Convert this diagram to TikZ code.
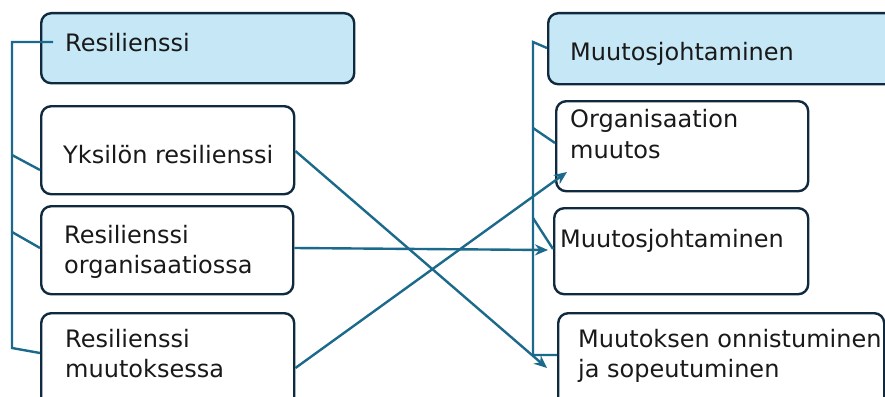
\documentclass[tikz,border=0pt]{standalone}
\usepackage{fontspec}
\setmainfont{DejaVu Sans}
\usetikzlibrary{arrows.meta}
\definecolor{boxblue}{HTML}{C6E8F6}
\definecolor{boxline}{HTML}{0F2A3E}
\definecolor{conn}{HTML}{1B6A8C}
\tikzset{
  box/.style={draw=boxline, line width=2.4pt, rounded corners=10pt, fill=white,
    inner sep=0pt, anchor=north west},
  bluebox/.style={box, fill=boxblue},
  lbl/.style={anchor=base west, inner sep=0pt, font=\fontsize{24}{31}\selectfont, text=black!90},
  wire/.style={draw=conn, line width=2.4pt},
  arr/.style={wire, -{Stealth[length=13pt,width=11pt]}},
}
\begin{document}
\begin{tikzpicture}[x=1pt,y=-1pt]
\useasboundingbox (0,0) rectangle (885,396);
\clip (0,0) rectangle (885,396);
\fill[white] (0,0) rectangle (885,396);
% left boxes
\node[bluebox, minimum width=313pt, minimum height=70pt] (res) at (40,12) {};
\node[box, minimum width=253pt, minimum height=88pt] (yks) at (40,105) {};
\node[box, minimum width=252pt, minimum height=88pt] (org) at (40,205) {};
\node[box, minimum width=253pt, minimum height=100pt] (muu) at (40,312) {};
% right boxes
\node[bluebox, minimum width=360pt, minimum height=71pt] (mj) at (547,12) {};
\node[box, minimum width=252pt, minimum height=90pt] (om) at (555,100) {};
\node[box, minimum width=254pt, minimum height=86pt] (mj2) at (553,207) {};
\node[box, minimum width=326pt, minimum height=100pt] (mo) at (557,312) {};
% texts
\node[lbl] (t1) at (65,52) {Resilienssi};
\node[lbl] (t2) at (63,163) {Yksilön resilienssi};
\node[lbl] (t3a) at (64,243) {Resilienssi};
\node[lbl] (t3b) at (64,273) {organisaatiossa};
\node[lbl] (t4a) at (65,347) {Resilienssi};
\node[lbl] (t4b) at (65,377) {muutoksessa};
\node[lbl] (t5) at (570,60) {Muutosjohtaminen};
\node[lbl] (t6a) at (570,127) {Organisaation};
\node[lbl] (t6b) at (570,158) {muutos};
\node[lbl] (t7) at (560,247) {Muutosjohtaminen};
\node[lbl] (t8a) at (578,347) {Muutoksen onnistuminen};
\node[lbl] (t8b) at (578,377) {ja sopeutuminen};
% left bracket
\coordinate (lt) at (12,42);
\coordinate (lb) at (12,348);
\coordinate (l1) at (12,155);
\coordinate (l2) at (12,232);
\coordinate (rin) at (53,42);
\draw[wire] (rin) -- (lt) -- (lb) -- (muu.west |- 0,353);
\draw[wire] (l1) -- (yks.west |- 0,170);
\draw[wire] (l2) -- (org.west |- 0,248);
% right bracket
\coordinate (rt) at (533,42);
\coordinate (rb) at (533,355);
\coordinate (r1) at (533,128);
\coordinate (r2) at (533,218);
\draw[wire] (mj.west |- 0,48) -- (rt) -- (rb) -- (mo.west |- 0,355);
\draw[wire] (r1) -- (om.west |- 0,143);
\draw[wire] (r2) -- (mj2.west |- 0,249);
% crossing arrows
\coordinate (a1) at (547,368);
\coordinate (a2) at (548,250);
\coordinate (a3) at (567,172);
\draw[arr] (yks.east |- 0,151) -- (a1);
\draw[arr] (org.east |- 0,248) -- (a2);
\draw[arr] (muu.east |- 0,368) -- (a3);
\end{tikzpicture}
\end{document}
